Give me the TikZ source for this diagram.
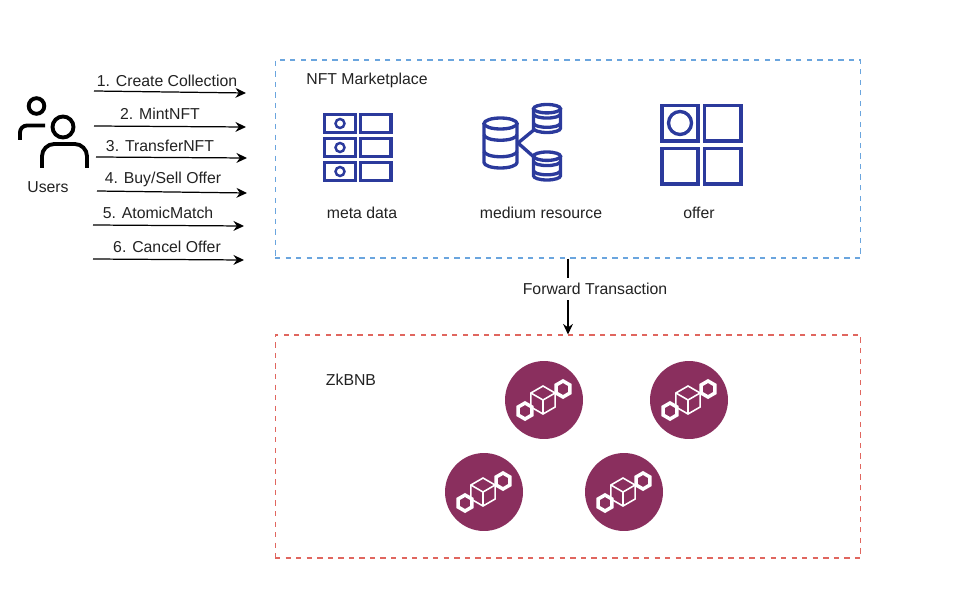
\documentclass[tikz,border=0pt]{standalone}
\usepackage{fontspec}
\setmainfont{Liberation Sans}
\usetikzlibrary{arrows.meta}
\definecolor{iconblue}{HTML}{2B3A9C}
\definecolor{boxblue}{HTML}{6AA5DE}
\definecolor{boxred}{HTML}{E0665F}
\definecolor{chainred}{HTML}{8A2F5E}
\definecolor{textgray}{HTML}{222222}
\tikzset{
    label text/.style={text=textgray,font=\fontsize{9pt}{11pt}\selectfont,inner sep=0pt},
    market box/.style={draw=boxblue,dashed,line width=0.6pt,minimum width=11.72cm,minimum height=3.96cm},
    zkbnb box/.style={draw=boxred,dashed,line width=0.6pt,minimum width=11.72cm,minimum height=4.46cm},
    chain node/.style={circle,fill=chainred,minimum size=1.56cm,inner sep=0pt},
    blue icon/.style={draw=iconblue,line width=1.9pt},
    user icon/.style={line width=2.2pt},
    flow/.style={->,>={Stealth[length=6pt,width=5.6pt]},line width=0.7pt},
    pics/db icon/.style={code={
	\draw [blue icon] (0,-1+#1) ellipse (1 and #1);
	\draw [blue icon] (-1,-1+#1) -- (-1,1-#1) arc (180:0:1 and #1) -- (1,-1+#1);
	\draw [blue icon] (-1,-0.33) arc (180:0:1 and #1);
	\draw [blue icon] (-1,0.33) arc (180:0:1 and #1);
    }},
    hex chain/.pic={
	\draw [white,line width=2pt] (-19,11) +(30:8) -- +(90:8) -- +(150:8) -- +(210:8)
	    -- +(270:8) -- +(330:8) -- cycle;
	\draw [white,line width=2pt] (19,-11) +(30:8) -- +(90:8) -- +(150:8) -- +(210:8)
	    -- +(270:8) -- +(330:8) -- cycle;
	\draw [white,line width=0.9pt] (-1,0) +(30:14) -- +(90:14) -- +(150:14) -- +(210:14)
	    -- +(270:14) -- +(330:14) -- cycle;
	\draw [white,line width=0.9pt] (-1,0) -- +(210:14) (-1,0) -- +(-30:14) (-1,0) -- +(90:14);
    },
}

\begin{document}
\begin{tikzpicture}[x=0.02cm,y=-0.02cm]
    \useasboundingbox (0,0) rectangle (972,591);

    % users
    \path (48,187) node [label text] (users) {Users};
    \draw [user icon] (36.5,106) circle (7.8);
    \draw [user icon,rounded corners=4pt] (20,140) -- (20,125.5) -- (45,125.5);
    \draw [user icon] (63,127) circle (10.5);
    \draw [user icon,rounded corners=7pt] (42,168) -- (42,144) -- (87,144) -- (87,168);

    % requests
    \foreach \i/\xa/\ya/\xb/\yb/\xl/\yl/\txt in {
	1/94/91/246/93/167/81/1. Create Collection,
	2/94/126/246/127/160/114/2. MintNFT,
	3/96/157/247/158/160/146/3. TransferNFT,
	4/97/191/247/193/163/179/4. Buy\slash Sell Offer,
	5/93/225/244/226/158/213/5. AtomicMatch,
	6/93/259/244/260/167/247/6. Cancel Offer} {
	\coordinate (from\i) at (\xa,\ya);
	\coordinate (to\i) at (\xb,\yb);
	\path (\xl,\yl) node [label text] (req\i) {\txt};
	\draw [flow] (from\i) -- (to\i);
    }

    % boxes
    \path (568,159) node [market box] (market) {};
    \path (568,446.5) node [zkbnb box] (zkbnb) {};
    \path (367,80.5) node [label text] (marketname) {NFT Marketplace};
    \path (351,380) node [label text] (zkbnbname) {ZkBNB};
    \path (362,213) node [label text] (metaname) {meta data};
    \path (541,213) node [label text] (mediumname) {medium resource};
    \path (699,213) node [label text] (offername) {offer};
    \draw [flow] (market) -- (zkbnb);
    \path (595,289) node [label text,fill=white,inner ysep=3pt] (forward) {Forward Transaction};

    % meta data icon
    \foreach \y in {114.5,138.5,162.5} {
	\draw [blue icon] (324.5,\y) rectangle (355.5,\y+18);
	\draw [blue icon] (360.5,\y) rectangle (391,\y+18);
	\draw [blue icon,line width=1.4pt] (340,\y+9) circle (4.5);
    }

    % medium resource icon
    \draw [blue icon] (518,143) -- (535,129);
    \draw [blue icon] (518,143) -- (535,158);
    \path (500.5,143) pic [xscale=16.5,yscale=25] {db icon=0.22};
    \path (547,118.5) pic [xscale=13.5,yscale=14] {db icon=0.3};
    \path (547,166) pic [xscale=13.5,yscale=14] {db icon=0.3};

    % offer icon
    \draw [blue icon] (662,105.5) rectangle (698,141);
    \draw [blue icon] (704.5,105.5) rectangle (741,141);
    \draw [blue icon] (662,148.5) rectangle (698,184);
    \draw [blue icon] (704.5,148.5) rectangle (741,184);
    \draw [blue icon] (680,123) circle (11.5);

    % chain nodes
    \foreach \i/\x/\y in {1/544/400,2/689/400,3/484/492,4/624/492} {
	\path (\x,\y) node [chain node] (chain\i) {};
	\path (chain\i) pic {hex chain};
    }
\end{tikzpicture}
\end{document}
